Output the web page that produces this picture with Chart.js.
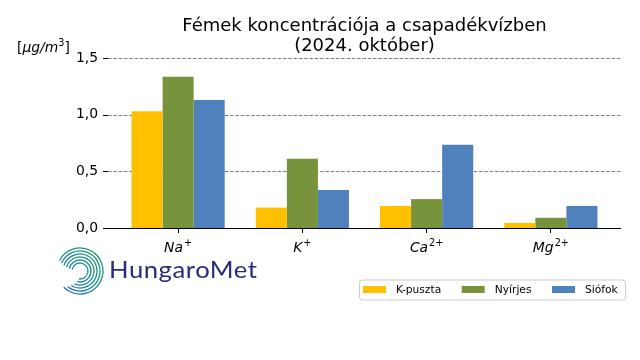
<!DOCTYPE html>
<html>
<head>
<meta charset="utf-8">
<script src="https://cdn.jsdelivr.net/npm/chart.js@4.4.1/dist/chart.umd.min.js"></script>
<style>
  html, body { margin: 0; padding: 0; background: #fff; }
  canvas { display: block; }
</style>
</head>
<body>
<canvas id="chart" width="640" height="360"></canvas>
<script>
// data
const categories = ['Na\u207A', 'K\u207A', 'Ca\u00B2\u207A', 'Mg\u00B2\u207A'];
const kpuszta = [1.03, 0.18, 0.195, 0.045];
const nyirjes = [1.335, 0.61, 0.255, 0.09];
const siofok = [1.13, 0.335, 0.735, 0.195];
const yTicks = [0, 0.5, 1.0, 1.5];
const yTickLabels = ['0,0', '0,5', '1,0', '1,5'];

const FONT = '"DejaVu Sans", sans-serif';
const EXT = 8; // matplotlib axes reach a bit past the bar margins
const SUP = { '\u207A': '+', '\u00B2': '2' };

// grid, spine, y ticks, title, unit label, legend and logo
const decor = {
  id: 'decor',
  beforeDatasetsDraw(chart) {
    const c = chart.ctx, a = chart.chartArea, y = chart.scales.y;
    c.save();
    c.strokeStyle = '#808080';
    c.lineWidth = 1;
    c.setLineDash([3.7, 1.6]);
    yTicks.forEach(v => {
      const py = Math.round(y.getPixelForValue(v)) + 0.5;
      c.beginPath();
      c.moveTo(a.left - EXT, py);
      c.lineTo(a.right + EXT, py);
      c.stroke();
    });
    c.setLineDash([]);
    c.strokeStyle = '#000';
    yTicks.forEach(v => {
      const py = Math.round(y.getPixelForValue(v)) + 0.5;
      c.beginPath();
      c.moveTo(a.left - EXT - 5, py);
      c.lineTo(a.left - EXT, py);
      c.stroke();
    });
    c.restore();
  },
  afterDraw(chart) {
    const c = chart.ctx, a = chart.chartArea, x = chart.scales.x, y = chart.scales.y;
    c.save();
    // bottom spine
    const py = Math.round(y.getPixelForValue(0)) + 0.5;
    c.strokeStyle = '#000';
    c.lineWidth = 1.2;
    c.beginPath();
    c.moveTo(a.left - EXT, py);
    c.lineTo(a.right + EXT, py);
    c.stroke();

    // x labels with real superscripts
    c.fillStyle = '#000';
    c.textBaseline = 'alphabetic';
    c.textAlign = 'left';
    chart.data.labels.forEach((lab, i) => {
      const base = lab.replace(/[\u207A\u00B2]/g, '');
      const sup = lab.split('').filter(ch => SUP[ch]).map(ch => SUP[ch]).join('');
      c.font = 'italic 13.9px ' + FONT;
      const wb = c.measureText(base).width;
      c.font = '9.7px ' + FONT;
      const ws = c.measureText(sup).width;
      const px = x.getPixelForTick(i) - (wb + ws + 1) / 2;
      c.font = 'italic 13.9px ' + FONT;
      c.fillText(base, px, 251.5);
      c.font = '9.7px ' + FONT;
      c.fillText(sup, px + wb + 1, 245.5);
    });

    // title
    const cx = (a.left + a.right) / 2;
    c.textAlign = 'center';
    c.font = '18px ' + FONT;
    c.fillText('Fémek koncentrációja a csapadékvízben', cx, 30.5);
    c.fillText('(2024. október)', cx, 51);

    // unit label [μg/m³]
    c.textAlign = 'left';
    let ux = 17;
    const base = 51.5;
    const part = (t, f, dy) => { c.font = f; c.fillText(t, ux, base - (dy || 0)); ux += c.measureText(t).width; };
    part('[', '13.9px ' + FONT);
    part('μg/m', 'italic 13.9px ' + FONT);
    part('3', '9.7px ' + FONT, 5.5);
    part(']', '13.9px ' + FONT);

    // legend
    const ds = chart.data.datasets;
    c.font = '10.7px ' + FONT;
    const bx = 359, by = 279.5, bh = 20;
    const bw = a.right + 12 - bx;
    c.fillStyle = 'rgba(255,255,255,0.8)';
    c.strokeStyle = '#cccccc';
    c.lineWidth = 1;
    c.beginPath();
    c.roundRect(bx + 0.5, by + 0.5, bw, bh, 3);
    c.fill();
    c.stroke();
    let lx = bx + 4;
    c.textBaseline = 'middle';
    ds.forEach(d => {
      c.fillStyle = d.backgroundColor;
      c.fillRect(lx, by + 6.5, 23, 7);
      c.fillStyle = '#000';
      c.fillText(d.label, lx + 33, by + 10.5);
      lx += 33 + c.measureText(d.label).width + 20.5;
    });

    // logo: spiral
    const sx = 80, sy = 271;
    const grad = c.createLinearGradient(sx - 20, sy + 20, sx + 20, sy - 20);
    grad.addColorStop(0, '#2a64b4');
    grad.addColorStop(0.5, '#1a8f9a');
    grad.addColorStop(1, '#1c9a5c');
    c.strokeStyle = grad;
    c.lineWidth = 1.3;
    for (let k = 0; k < 6; k++) {
      const r = 8 + k * 3;
      c.beginPath();
      c.arc(sx, sy, r, Math.PI * (1.05 + k * 0.02), Math.PI * (2.55 + k * 0.04));
      c.stroke();
    }
    // logo: wordmark, stretched to the width in the picture
    c.fillStyle = '#2b2a7c';
    c.textBaseline = 'alphabetic';
    c.font = '400 23.5px Lato, "Noto Sans", sans-serif';
    c.letterSpacing = '0.5px';
    const word = 'HungaroMet';
    const ww = c.measureText(word).width - 0.5;
    c.translate(109, 278);
    c.scale(148 / ww, 1);
    c.fillText(word, 0, 0);
    c.restore();
  }
};

new Chart(document.getElementById('chart'), {
  type: 'bar',
  data: {
    labels: categories,
    datasets: [
      { label: 'K-puszta', data: kpuszta, backgroundColor: '#FFC000' },
      { label: 'Nyírjes', data: nyirjes, backgroundColor: '#77933C' },
      { label: 'Siófok', data: siofok, backgroundColor: '#4F81BD' }
    ]
  },
  options: {
    responsive: false,
    animation: false,
    events: [],
    layout: { padding: { left: 0, right: 27, top: 58, bottom: 92 } },
    datasets: { bar: { categoryPercentage: 0.75, barPercentage: 1.0 } },
    plugins: { legend: { display: false }, title: { display: false }, tooltip: { enabled: false } },
    scales: {
      x: {
        afterFit: s => { s.height = 40; },
        border: { display: false },
        grid: { display: true, offset: false, drawOnChartArea: false, drawTicks: true, tickLength: 5, tickColor: '#000', color: '#000' },
        ticks: { display: false }
      },
      y: {
        min: 0, max: 1.5,
        afterFit: s => { s.width = 116; },
        afterBuildTicks: s => { s.ticks = yTicks.map(v => ({ value: v })); },
        border: { display: false },
        grid: { display: false },
        ticks: {
          color: '#000', padding: 10,
          font: { family: FONT, size: 13.9 },
          callback: (v) => yTickLabels[yTicks.indexOf(v)]
        }
      }
    }
  },
  plugins: [decor]
});
</script>
</body>
</html>
